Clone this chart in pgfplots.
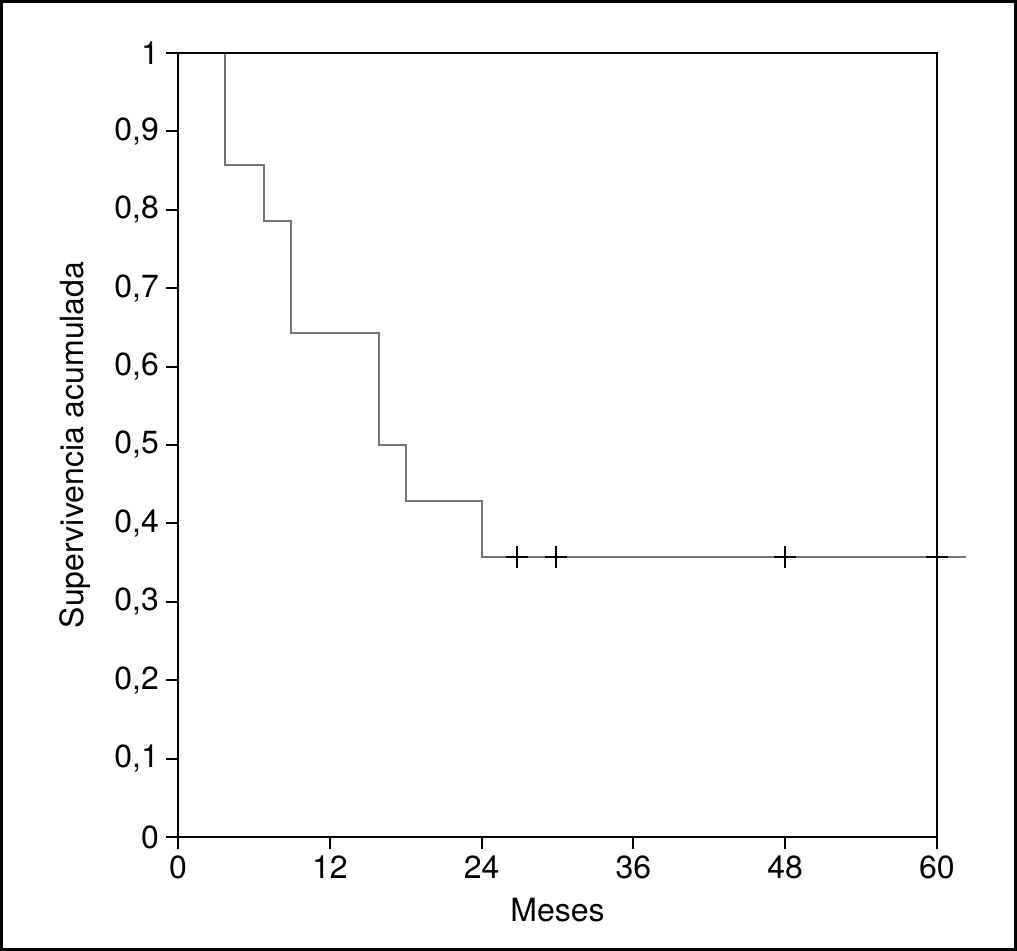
\documentclass[border=0pt]{standalone}
\usepackage{fontspec}
\setmainfont{TeX Gyre Heros}
\usepackage{pgfplots}
\pgfplotsset{compat=1.18}
\begin{document}
\begin{tikzpicture}
\useasboundingbox (-89pt,-57pt) rectangle (419.5pt,418.5pt);
\draw[line width=1.5pt] (-88.25pt,-56.25pt) rectangle (418.75pt,417.75pt);
\begin{axis}[
  at={(0,0)}, anchor=south west,
  width=379.5pt, height=392pt, scale only axis,
  xmin=0, xmax=60, ymin=0, ymax=1,
  clip=false,
  axis on top,
  axis line style={line width=1pt, black},
  xtick={0,12,24,36,48,60},
  ytick={0,0.1,0.2,0.3,0.4,0.5,0.6,0.7,0.8,0.9,1},
  tick align=outside, tick pos=left,
  major tick length=6pt,
  tick style={line width=1pt, black},
  /pgf/number format/assume math mode=true,
  /pgf/number format/use comma,
  ticklabel style={font=\fontsize{16}{19}\selectfont},
  label style={font=\fontsize{16}{19}\selectfont},
  xlabel={Meses},
  ylabel={Supervivencia acumulada},
  xlabel style={at={(axis description cs:0.5,-0.0931)}, anchor=center},
  ylabel style={at={(axis description cs:-0.1357,0.5)}, anchor=center},
]
\addplot[color=black!55, line width=1pt, no marks] coordinates {
  (3.7,1) (3.7,0.857) (6.8,0.857) (6.8,0.786) (8.93,0.786)
  (8.93,0.643) (15.9,0.643) (15.9,0.5) (18,0.5) (18,0.429) (24,0.429)
  (24,0.357) (62.3,0.357)
};
\addplot[only marks, mark=+, mark size=5.5pt, black, mark options={line width=0.9pt}] coordinates {
  (26.8,0.357) (29.9,0.357) (48,0.357) (60,0.357)
};
\end{axis}
\end{tikzpicture}
\end{document}
